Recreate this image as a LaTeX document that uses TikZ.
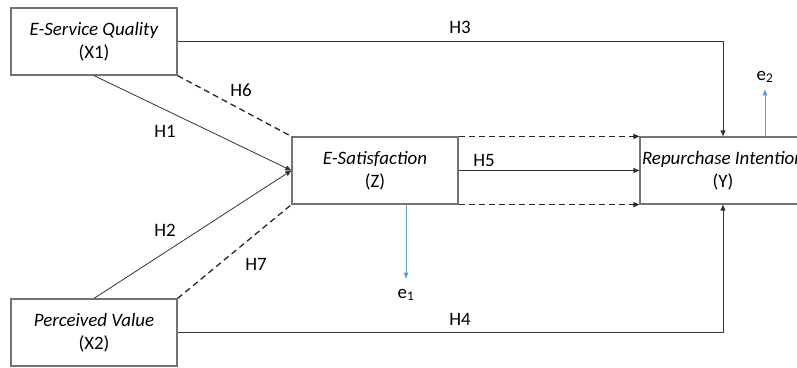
\documentclass[tikz,border=0pt]{standalone}
\usepackage{fontspec}
\setmainfont{Carlito}
\usetikzlibrary{arrows.meta}
\definecolor{errblue}{RGB}{91,155,213}
\begin{document}
\begin{tikzpicture}[x=1bp,y=-1bp,
  box/.style={draw=black!55, line width=1.2bp, minimum width=166bp, minimum height=67bp, inner sep=0pt, align=center, font=\fontsize{19}{23}\selectfont},
  conn/.style={draw=black!80, line width=0.8bp, -{Triangle[length=6bp,width=5bp]}},
  dconn/.style={draw=black!85, line width=1.3bp, dash pattern=on 6bp off 4bp},
  darr/.style={dconn, -{Triangle[length=6bp,width=5bp]}},
  lbl/.style={font=\fontsize{19}{21}\selectfont},
  err/.style={draw=errblue, line width=0.8bp, -{Triangle[length=6bp,width=4.5bp]}}]
\useasboundingbox (0,0) rectangle (797,367);
\clip (0,0) rectangle (797,367);
\node[box] (x1) at (94,41.5) {\textit{E-Service Quality}\\(X1)};
\node[box] (x2) at (94,332.5) {\textit{Perceived Value}\\(X2)};
\node[box] (z) at (375,170.5) {\textit{E-Satisfaction}\\(Z)};
\node[box] (y) at (723,170.5) {\textit{Repurchase Intention}\\(Y)};
% labels
\node[lbl] (h3) at (460,27) {H3};
\node[lbl] (h6) at (241,90) {H6};
\node[lbl] (h1) at (165,131) {H1};
\node[lbl] (h2) at (165,230) {H2};
\node[lbl] (h7) at (256,264) {H7};
\node[lbl] (h5) at (484,160) {H5};
\node[lbl] (h4) at (460,319) {H4};
\node[lbl] (e1) at (406,295) {e\textsubscript{1}};
\node[lbl] (e2) at (765,77) {e\textsubscript{2}};
% connectors
\draw[conn] (x1.east) -| (y.north);
\draw[conn] (x2.east) -| (y.south);
\draw[conn] (x1.south) -- (z.west);
\draw[conn] (x2.north) -- (z.west);
\draw[dconn] (x1.south east) -- (z.north west);
\draw[dconn] (x2.north east) -- (z.south west);
\draw[conn] (z.east) -- (y.west);
\draw[darr] (z.north east) -- (y.north west);
\draw[darr] (z.south east) -- (y.south west);
\draw[err] (z.south -| e1) -- ++(0,74);
\draw[err] (y.north -| e2) -- ++(0,-47);
\end{tikzpicture}
\end{document}
